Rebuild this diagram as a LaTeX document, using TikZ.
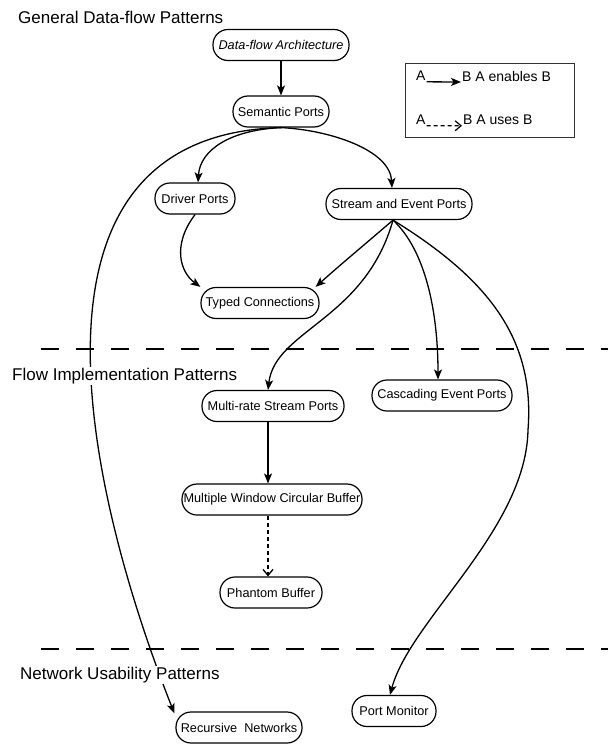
\documentclass[tikz,border=0pt]{standalone}
\usepackage{fontspec}
\setmainfont{Liberation Sans}
\usetikzlibrary{arrows.meta}
\begin{document}
\begin{tikzpicture}[x=1pt,y=-1pt,
  box/.style={draw, line width=1.2pt, rounded corners=15pt, fill=white, minimum height=31pt, inner xsep=1pt, inner ysep=0pt, font=\fontsize{12.7}{15}\selectfont},
  conn/.style={line width=1.3pt, -{Stealth[length=10pt,width=8pt,inset=2.5pt]}},
  uses/.style={line width=1.3pt, dash pattern=on 4pt off 3pt, -{Straight Barb[length=6pt,width=10pt]}},
  sect/.style={font=\fontsize{17}{20}\selectfont, fill=white, inner sep=1pt, anchor=west},
  sepline/.style={line width=1.2pt, dash pattern=on 18pt off 17pt},
  legtext/.style={font=\fontsize{14}{16}\selectfont, inner sep=1pt, anchor=west}]
\useasboundingbox (0,0) rectangle (608,744);

% separators
\coordinate (s1a) at (41,349);
\coordinate (s1b) at (608,349);
\coordinate (s2a) at (41,649);
\coordinate (s2b) at (608,649);
\draw[sepline] (s1a) -- (s1b);
\draw[sepline] (s2a) -- (s2b);

% nodes
\node[box, minimum width=136pt, font=\fontsize{12.7}{15}\selectfont\itshape] (dfa) at (281,45) {Data-flow Architecture};
\node[box, minimum width=96pt] (sem) at (281,111.5) {Semantic Ports};
\node[box, minimum width=80pt] (dp) at (195,198.5) {Driver Ports};
\node[box, minimum width=146pt] (sep) at (399,204) {Stream and Event Ports};
\node[box, minimum width=118pt] (tc) at (260,303) {Typed Connections};
\node[box, minimum width=142pt] (mr) at (273,406) {Multi-rate Stream Ports};
\node[box, minimum width=140pt] (ce) at (442,395.5) {Cascading Event Ports};
\node[box, minimum width=180pt] (mw) at (272,499.5) {Multiple Window Circular Buffer};
\node[box, minimum width=102pt] (pb) at (271,592.5) {Phantom Buffer};
\node[box, minimum width=126pt] (rn) at (239,727.5) {Recursive\ \ Networks};
\node[box, minimum width=84pt] (pm) at (394,711) {Port Monitor};

% connectors
\draw[conn] (dfa) -- (sem);
\draw[conn] (sem.south) .. controls (230,130) and (200,150) .. ([xshift=3pt]dp.north);
\draw[conn] (sem.south) .. controls (330,130) and (390,150) .. ([xshift=-7pt]sep.north);
\draw[conn] (dp.south) .. controls (172,245) and (180,272) .. (tc.north west);
\draw[conn] ([xshift=-6pt]sep.south) .. controls (370,240) and (340,265) .. ([xshift=-4pt]tc.north east);
\draw[conn] ([xshift=-6pt]sep.south) .. controls (365,320) and (275,330) .. ([xshift=-5pt]mr.north);
\draw[conn] ([xshift=-6pt]sep.south) .. controls (425,250) and (438,310) .. ([xshift=-4pt]ce.north);
\coordinate (pmmid) at (528,430);
\draw[conn] ([xshift=-6pt]sep.south) .. controls (490,280) and (535,340) .. (pmmid)
  .. controls (526,530) and (410,620) .. ([xshift=-4pt]pm.north);
\draw[conn] ([xshift=-5pt]mr.south) -- ([xshift=-4pt]mw.north);
\draw[uses] ([xshift=-4pt]mw.south) -- ([xshift=-3pt]pb.north);
\draw[conn] (sem.south) .. controls (0,135) and (90,500) .. ([shift={(-1pt,-2pt)}]rn.north west);

% section titles
\node[sect] (t1) at (17,17) {General Data-flow Patterns};
\node[sect] (t2) at (11,376) {Flow Implementation Patterns};
\node[sect] (t3) at (19,675) {Network Usability Patterns};

% legend
\node[draw, line width=0.9pt, draw=black!80, minimum width=169pt, minimum height=74pt, inner sep=0pt] (leg) at (489.5,100) {};
\node[legtext] (la1) at (415,76) {A};
\node[legtext] (lb1) at (461,76) {B A enables B};
\draw[conn] ([yshift=-1pt]la1.base east) -- ([yshift=-1pt]lb1.base west);
\node[legtext] (la2) at (415,120) {A};
\node[legtext] (lb2) at (462,120) {B A uses B};
\draw[uses, line width=1.2pt] ([yshift=-1pt]la2.base east) -- ([yshift=-1pt]lb2.base west);
\end{tikzpicture}
\end{document}
